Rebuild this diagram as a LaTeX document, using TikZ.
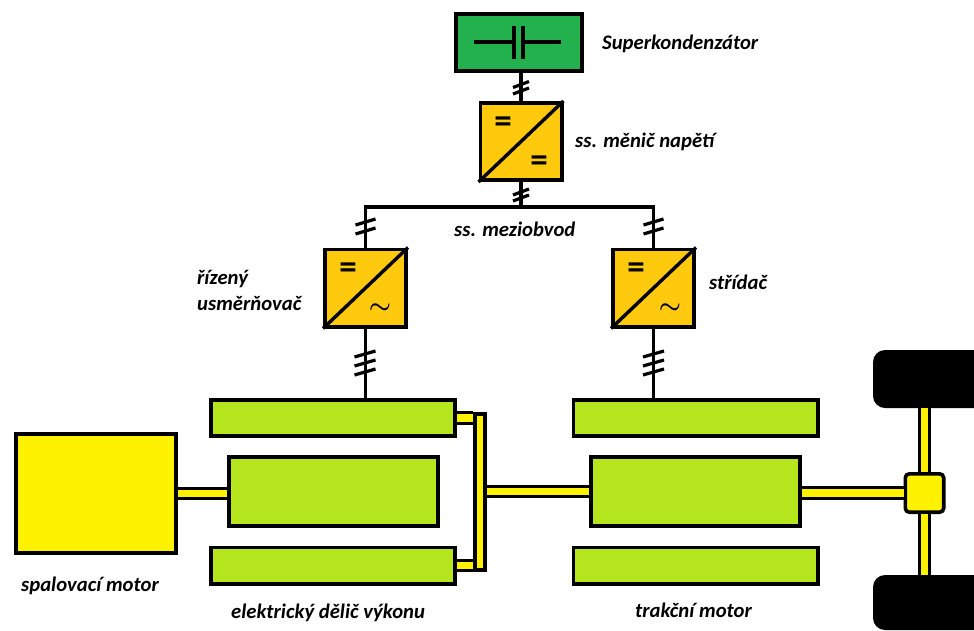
\documentclass[tikz,border=0pt]{standalone}
\usepackage{fontspec}
\setmainfont{Carlito}
\usetikzlibrary{
    positioning,
    calc
}
\definecolor{capgreen}{RGB}{34, 177, 76}
\definecolor{convamber}{RGB}{255, 201, 14}
\definecolor{motorlime}{RGB}{181, 230, 29}
\definecolor{shaftyellow}{RGB}{255, 242, 0}

\begin{document}
\begin{tikzpicture}[
        x=1pt, y=-1pt,
        box/.style={rectangle, draw, line width=3.6pt, inner sep=0pt},
        conv/.style={box, fill=convamber, minimum width=81.4pt, minimum height=77.4pt},
        stator/.style={box, fill=motorlime, minimum width=244.4pt, minimum height=36.4pt},
        rotor/.style={box, fill=motorlime, minimum width=209.4pt, minimum height=69.4pt},
        wheel/.style={rectangle, fill=black, rounded corners=12pt, inner sep=0pt, minimum width=117pt},
        wire/.style={line width=3.4pt},
        tick/.style={line width=3.2pt},
        shaft/.style={draw=black, line width=3pt, double=shaftyellow, double distance=7.5pt},
        label/.style={font=\fontsize{20.7}{26}\selectfont\bfseries\itshape, inner sep=0pt, anchor=west, align=left},
        eqsign/.style={font=\fontsize{35}{35}\selectfont\bfseries, inner sep=0pt},
        acsign/.style={font=\fontsize{34}{34}\selectfont\boldmath, text=black!75!blue, inner sep=0pt}
    ]
        \clip (0,0) rectangle (974,630);

        % Storage
        \node[box, fill=capgreen, minimum width=126.4pt, minimum height=57.4pt] (supercap) at (519,42.5) {};
        \coordinate (capleft) at (474,42);
        \coordinate (capright) at (561,42);
        \coordinate (plateltop) at (514,26);
        \coordinate (platelbot) at (514,59);
        \coordinate (platertop) at (523,26);
        \coordinate (platerbot) at (523,59);
        \draw[wire] (capleft) -- (plateltop |- capleft);
        \draw[wire] (capright) -- (platertop |- capright);
        \draw[line width=3.6pt] (plateltop) -- (platelbot);
        \draw[line width=3.6pt] (platertop) -- (platerbot);

        % Converters
        \node[conv] (dcdc) at (521,141.5) {};
        \node[conv] (rectifier) at (365.5,288) {};
        \node[conv] (inverter) at (653.5,288) {};
        \draw[wire] (dcdc.south west) -- (dcdc.north east);
        \draw[wire] (rectifier.south west) -- (rectifier.north east);
        \draw[wire] (inverter.south west) -- (inverter.north east);
        \node[eqsign] (eqa) at (503,124.5) {=};
        \node[eqsign] (eqb) at (539,163.5) {=};
        \node[eqsign] (eqc) at (348,270.5) {=};
        \node[eqsign] (eqd) at (636,270.5) {=};
        \node[acsign] (aca) at (380,309) {$\sim$};
        \node[acsign] (acb) at (670,309) {$\sim$};

        % Machines
        \node[box, fill=shaftyellow, minimum width=160.4pt, minimum height=119.4pt] (engine) at (96,493.5) {};
        \node[stator] (splitup) at (333,418) {};
        \node[rotor] (splitmid) at (333.5,491.5) {};
        \node[stator] (splitlow) at (333,565.5) {};
        \node[stator] (tractup) at (695.5,418) {};
        \node[rotor] (tractmid) at (695.5,491.5) {};
        \node[stator] (tractlow) at (695.5,565.5) {};

        % Drive line
        \node[box, fill=shaftyellow, minimum width=10.4pt, minimum height=156.4pt] (collector) at (480,492) {};
        \node[box, fill=shaftyellow, rounded corners=4pt, minimum width=38.4pt, minimum height=38.4pt] (diff) at (924.5,493) {};
        \node[wheel, minimum height=58pt] (wheeltop) at (931.5,379) {};
        \node[wheel, minimum height=55pt] (wheelbot) at (931.5,602.5) {};

        % Wires
        \coordinate (bus) at (521,207);
        \draw[wire] (dcdc.north) -- (dcdc.north |- supercap.south);
        \draw[wire] (dcdc.south) -- (bus);
        \draw[wire] (rectifier.north) |- (bus) -| (inverter.north);
        \draw[wire] (rectifier.south) -- (rectifier.south |- splitup.north);
        \draw[wire] (inverter.south) -- (inverter.south |- tractup.north);

        % Line marks
        \foreach \ty in {84.5,91} \draw[tick] (513,\ty+3) -- (529,\ty-3);
        \foreach \ty in {192,198} \draw[tick] (513,\ty+3) -- (529,\ty-3);
        \foreach \tx in {365.5,653.5} \foreach \ty in {222,231} \draw[tick] (\tx-10,\ty+3) -- (\tx+10,\ty-3);
        \foreach \tx in {365,653.5} \foreach \ty in {354,363,372} \draw[tick] (\tx-10.5,\ty+3) -- (\tx+10.5,\ty-3);

        % Shafts
        \draw[shaft] (engine.east) -- (engine.east -| splitmid.west);
        \draw[shaft] (splitup.east) -- (collector.west |- splitup.east);
        \draw[shaft] (splitlow.east) -- (collector.west |- splitlow.east);
        \draw[shaft] (collector.east |- tractmid.west) -- (tractmid.west);
        \draw[shaft] (diff.west) -- (diff.west -| tractmid.east);
        \draw[shaft] (diff.north) -- (diff.north |- wheeltop.south);
        \draw[shaft] (diff.south) -- (diff.south |- wheelbot.north);

        % Labels
        \node[label] (capname) at (602,43.5) {Superkondenzátor};
        \node[label] (dcdcname) at (575,142) {ss. měnič napětí};
        \node[label] (busname) at (454,229.5) {ss. meziobvod};
        \node[label] (rectname) at (197,290) {řízený\\usměrňovač};
        \node[label] (invname) at (709,282) {střídač};
        \node[label] (enginename) at (21,586) {spalovací motor};
        \node[label] (splitname) at (231,612.5) {elektrický dělič výkonu};
        \node[label] (tractname) at (635,610.5) {trakční motor};
    \end{tikzpicture}
\end{document}
